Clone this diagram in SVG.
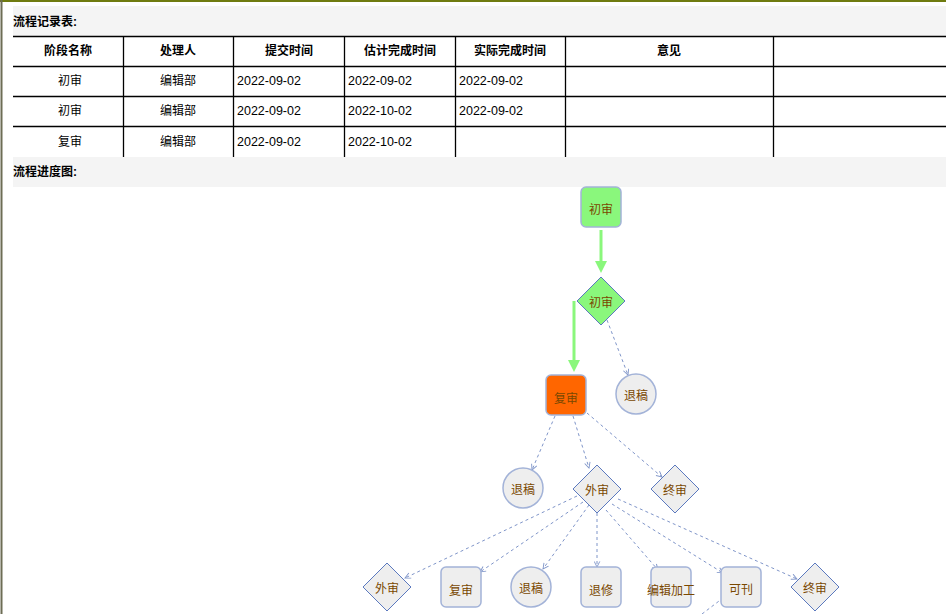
<svg xmlns="http://www.w3.org/2000/svg" width="946" height="614" viewBox="0 0 946 614">
<defs>
<style>
.band{fill:#f4f4f4}
.title{font-family:"Liberation Sans","Noto Sans CJK SC",sans-serif;font-size:12px;font-weight:bold;fill:#000}
.th{font-family:"Liberation Sans","Noto Sans CJK SC",sans-serif;font-size:12px;font-weight:bold;fill:#000;text-anchor:middle}
.td{font-family:"Liberation Sans","Noto Sans CJK SC",sans-serif;font-size:12.5px;fill:#000}
.tc{text-anchor:middle;font-size:12px}
.grid{stroke:#000;stroke-width:1.3;fill:none}
.lbl{font-family:"Noto Sans CJK SC","Liberation Sans",sans-serif;font-size:12px;fill:#7a4800;text-anchor:middle;dominant-baseline:central}
.rbox{stroke:#a3b3d8;stroke-width:1.5}
.dia{stroke:#5b79bf;stroke-width:1}
.grey{fill:#eeeeee}
.green{fill:#8af77c}
.orange{fill:#ff6600}
.dash{stroke:#7f95c9;stroke-width:1;stroke-dasharray:3,3;fill:none}
.thick{stroke:#8af77c;stroke-width:3;fill:none}
</style>
<marker id="open" viewBox="0 0 10 10" refX="9" refY="5" markerWidth="7" markerHeight="7" markerUnits="userSpaceOnUse" orient="auto">
<path d="M1,1 L9,5 L1,9" fill="none" stroke="#7f95c9" stroke-width="1.3"/>
</marker>
</defs>
<rect x="0" y="0" width="946" height="614" fill="#ffffff"/>
<line x1="0" y1="1" x2="946" y2="1" stroke="#6f7b10" stroke-width="2"/>
<line x1="1.5" y1="0" x2="1.5" y2="614" stroke="#6d6d55" stroke-width="2"/>
<rect class="band" x="13" y="6" width="933" height="30"/>
<text class="title" x="13" y="26">流程记录表:</text>
<rect class="band" x="13" y="157" width="933" height="30"/>
<text class="title" x="13" y="176">流程进度图:</text>
<g id="table">
<path class="grid" d="M13,36.5H946M13,66.5H946M13,96.5H946M13,126.5H946M123.5,36V157M233.5,36V157M344.5,36V157M455.5,36V157M565.5,36V157M773.5,36V157"/>
<text class="th" x="68" y="55">阶段名称</text>
<text class="th" x="178" y="55">处理人</text>
<text class="th" x="289" y="55">提交时间</text>
<text class="th" x="400" y="55">估计完成时间</text>
<text class="th" x="510" y="55">实际完成时间</text>
<text class="th" x="669" y="55">意见</text>
<text class="td tc" x="70" y="85">初审</text>
<text class="td tc" x="178" y="85">编辑部</text>
<text class="td" x="237" y="85">2022-09-02</text>
<text class="td" x="348" y="85">2022-09-02</text>
<text class="td" x="459" y="85">2022-09-02</text>
<text class="td tc" x="70" y="115">初审</text>
<text class="td tc" x="178" y="115">编辑部</text>
<text class="td" x="237" y="115">2022-09-02</text>
<text class="td" x="348" y="115">2022-10-02</text>
<text class="td" x="459" y="115">2022-09-02</text>
<text class="td tc" x="70" y="146">复审</text>
<text class="td tc" x="178" y="146">编辑部</text>
<text class="td" x="237" y="146">2022-09-02</text>
<text class="td" x="348" y="146">2022-10-02</text>
</g>
<g id="connectors">
<line class="thick" x1="601" y1="230" x2="601" y2="262"/>
<polygon points="595,261 607,261 601,273" fill="#8af77c"/>
<line class="thick" x1="574" y1="301" x2="574" y2="361"/>
<polygon points="568,360 580,360 574,372" fill="#8af77c"/>
<line class="dash" x1="607" y1="320" x2="628" y2="375" marker-end="url(#open)"/>
<line class="dash" x1="555" y1="416" x2="532" y2="470" marker-end="url(#open)"/>
<line class="dash" x1="573" y1="416" x2="589" y2="468" marker-end="url(#open)"/>
<line class="dash" x1="587" y1="413" x2="662" y2="477" marker-end="url(#open)"/>
<line class="dash" x1="577" y1="496" x2="405" y2="578" marker-end="url(#open)"/>
<line class="dash" x1="583" y1="502" x2="480" y2="572" marker-end="url(#open)"/>
<line class="dash" x1="589" y1="505" x2="543" y2="569" marker-end="url(#open)"/>
<line class="dash" x1="597" y1="513" x2="597" y2="567" stroke-width="1.8" marker-end="url(#open)"/>
<line class="dash" x1="606" y1="510" x2="658" y2="570" marker-end="url(#open)"/>
<line class="dash" x1="612" y1="504" x2="723" y2="573" marker-end="url(#open)"/>
<line class="dash" x1="618" y1="499" x2="797" y2="579" marker-end="url(#open)"/>
<line class="dash" x1="702" y1="614" x2="723" y2="598"/>
</g>
<g id="n-chushen1"><rect class="rbox green" x="581" y="187" width="40" height="40" rx="5"/><text class="lbl" x="601" y="208">初审</text></g>
<g id="n-chushen2"><polygon class="dia green" points="601,277 625,301 601,325 577,301"/><text class="lbl" x="601" y="301">初审</text></g>
<g id="n-tuigao1"><circle class="rbox grey" cx="636" cy="394" r="20"/><text class="lbl" x="636" y="394">退稿</text></g>
<g id="n-fushen"><rect class="rbox orange" x="546" y="375" width="40" height="40" rx="5"/><text class="lbl" x="566" y="397">复审</text></g>
<g id="n-tuigao2"><circle class="rbox grey" cx="523" cy="488" r="20"/><text class="lbl" x="523" y="488">退稿</text></g>
<g id="n-waishen1"><polygon class="dia grey" points="597,465 621,489 597,513 573,489"/><text class="lbl" x="597" y="489">外审</text></g>
<g id="n-zhongshen1"><polygon class="dia grey" points="675,465 699,489 675,513 651,489"/><text class="lbl" x="675" y="489">终审</text></g>
<g id="n-waishen2"><polygon class="dia grey" points="387,563 411,587 387,611 363,587"/><text class="lbl" x="387" y="587">外审</text></g>
<g id="n-fushen2"><rect class="rbox grey" x="441" y="567" width="40" height="40" rx="5"/><text class="lbl" x="461" y="589">复审</text></g>
<g id="n-tuigao3"><circle class="rbox grey" cx="531" cy="587" r="20"/><text class="lbl" x="531" y="587">退稿</text></g>
<g id="n-tuixiu"><rect class="rbox grey" x="581" y="567" width="40" height="40" rx="5"/><text class="lbl" x="601" y="589">退修</text></g>
<g id="n-bianji"><rect class="rbox grey" x="651" y="567" width="40" height="40" rx="5"/><text class="lbl" x="671" y="589">编辑加工</text></g>
<g id="n-kekan"><rect class="rbox grey" x="721" y="567" width="40" height="40" rx="5"/><text class="lbl" x="741" y="588">可刊</text></g>
<g id="n-zhongshen2"><polygon class="dia grey" points="815,563 839,587 815,611 791,587"/><text class="lbl" x="815" y="587">终审</text></g>
</svg>
